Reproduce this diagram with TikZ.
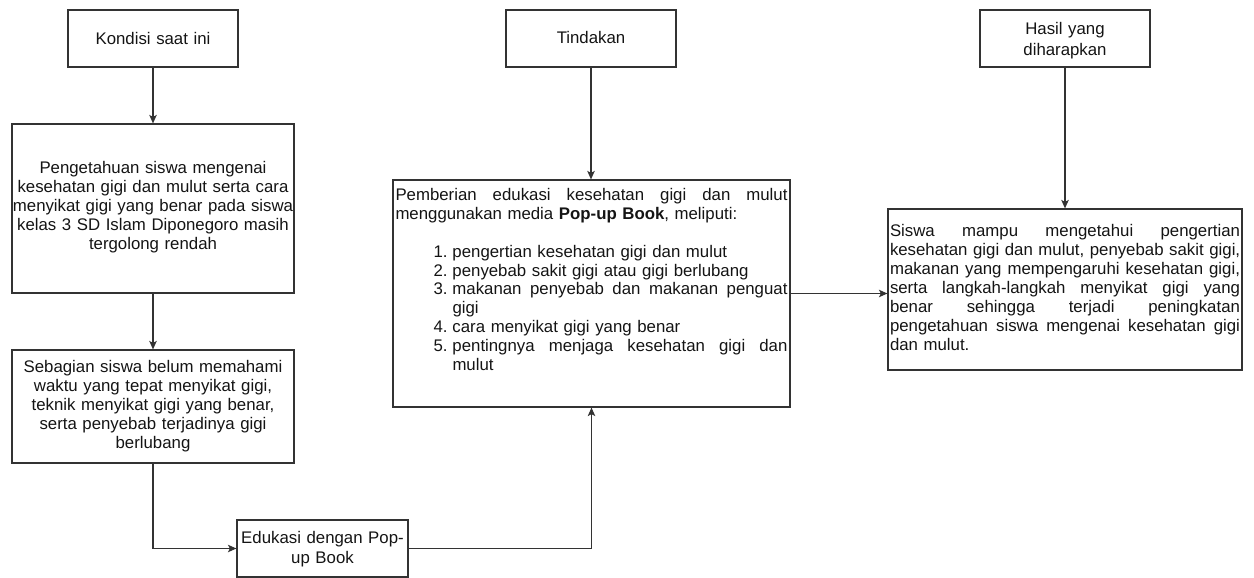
\documentclass[tikz,border=0pt]{standalone}
\usepackage{fontspec}
\setmainfont{Liberation Sans}
\usetikzlibrary{arrows.meta}
\newcommand{\jrow}[2]{\hbox to #1{#2}}
\begin{document}
\begin{tikzpicture}[x=1pt,y=-1pt,
  box/.style={draw=black!80, line width=1.2pt, rectangle, inner xsep=2.5pt, inner ysep=0pt, text=black!92},
  ctext/.style={align=center, font=\fontsize{16.8}{19}\selectfont},
  jtext/.style={font=\fontsize{16.8}{19}\selectfont},
  arr/.style={draw=black!80, line width=1.2pt, -{Stealth[length=8.5pt,width=7.5pt,inset=2pt]}}
]
\useasboundingbox (0,0) rectangle (1254,578);

% left column
\node[box, ctext, minimum width=170pt, minimum height=57pt, text width=165pt,
      text height=35pt, text depth=22pt] (k1) at (153,38.5) {Kondisi saat ini};
\node[box, ctext, inner xsep=0.5pt, minimum width=282pt, minimum height=169pt, text width=281pt,
      text height=49pt, text depth=120pt] (k2) at (153,208.5)
  {Pengetahuan siswa mengenai\\ kesehatan gigi dan mulut serta cara\\ menyikat gigi yang benar pada siswa\\ kelas 3 SD Islam Diponegoro masih\\ tergolong rendah};
\node[box, ctext, inner xsep=0.5pt, minimum width=282pt, minimum height=113pt, text width=281pt,
      text height=22pt, text depth=91pt] (k3) at (153,406.5)
  {Sebagian siswa belum memahami\\ waktu yang tepat menyikat gigi,\\ teknik menyikat gigi yang benar,\\ serta penyebab terjadinya gigi\\ berlubang};
\node[box, align=center, font=\fontsize{16.8}{20}\selectfont, minimum width=171pt, minimum height=57pt, text width=166pt,
      text height=23pt, text depth=34pt] (k4) at (322.5,548.5)
  {Edukasi dengan Pop-\\ up Book};

% middle column
\node[box, ctext, minimum width=170pt, minimum height=57pt, text width=165pt,
      text height=34pt, text depth=23pt] (t1) at (591,38.5) {Tindakan};
\node[box, jtext, minimum width=397pt, minimum height=227pt, text width=392pt,
      text height=20pt, text depth=207pt] (t2) at (591.5,293.5)
  {\jrow{392pt}{Pemberian \hfill edukasi \hfill kesehatan \hfill gigi \hfill dan \hfill mulut}
   \hbox{menggunakan media \textbf{Pop-up Book}, meliputi:}
   \vskip19pt
   \hbox{\hspace*{38pt}\makebox[19pt][l]{1.}pengertian kesehatan gigi dan mulut}
   \hbox{\hspace*{38pt}\makebox[19pt][l]{2.}penyebab sakit gigi atau gigi berlubang}
   \jrow{392pt}{\hspace*{38pt}\makebox[19pt][l]{3.}makanan \hfill penyebab \hfill dan \hfill makanan \hfill penguat}
   \hbox{\hspace*{57pt}gigi}
   \hbox{\hspace*{38pt}\makebox[19pt][l]{4.}cara menyikat gigi yang benar}
   \jrow{392pt}{\hspace*{38pt}\makebox[19pt][l]{5.}pentingnya \hfill menjaga \hfill kesehatan \hfill gigi \hfill dan}
   \hbox{\hspace*{57pt}mulut}};

% right column
\node[box, align=center, font=\fontsize{16.8}{21}\selectfont, minimum width=170pt, minimum height=57pt, text width=165pt,
      text height=25pt, text depth=32pt] (h1) at (1065,38.5) {Hasil yang\\ diharapkan};
\node[box, jtext, inner xsep=2pt, minimum width=354pt, minimum height=161pt, text width=350pt,
      text height=27pt, text depth=134pt] (s2) at (1065,289.5)
  {\jrow{350pt}{Siswa \hfill mampu \hfill mengetahui \hfill pengertian}
   \jrow{350pt}{kesehatan \hfill gigi \hfill dan \hfill mulut, \hfill penyebab \hfill sakit \hfill gigi,}
   \jrow{350pt}{makanan \hfill yang \hfill mempengaruhi \hfill kesehatan \hfill gigi,}
   \jrow{350pt}{serta \hfill langkah-langkah \hfill menyikat \hfill gigi \hfill yang}
   \jrow{350pt}{benar \hfill sehingga \hfill terjadi \hfill peningkatan}
   \jrow{350pt}{pengetahuan \hfill siswa \hfill mengenai \hfill kesehatan \hfill gigi}
   \hbox{dan mulut.}};

% connectors
\draw[arr] (k1.south) -- (k2.north);
\draw[arr] (k2.south) -- (k3.north);
\draw[arr] (k3.south) |- (k4.west);
\draw[arr] (k4.east) -| (t2.south);
\draw[arr] (t1.south) -- (t1.south |- t2.north);
\draw[arr] (t2.east) -- (t2.east -| s2.west);
\draw[arr] (h1.south) -- (s2.north);
\end{tikzpicture}
\end{document}
